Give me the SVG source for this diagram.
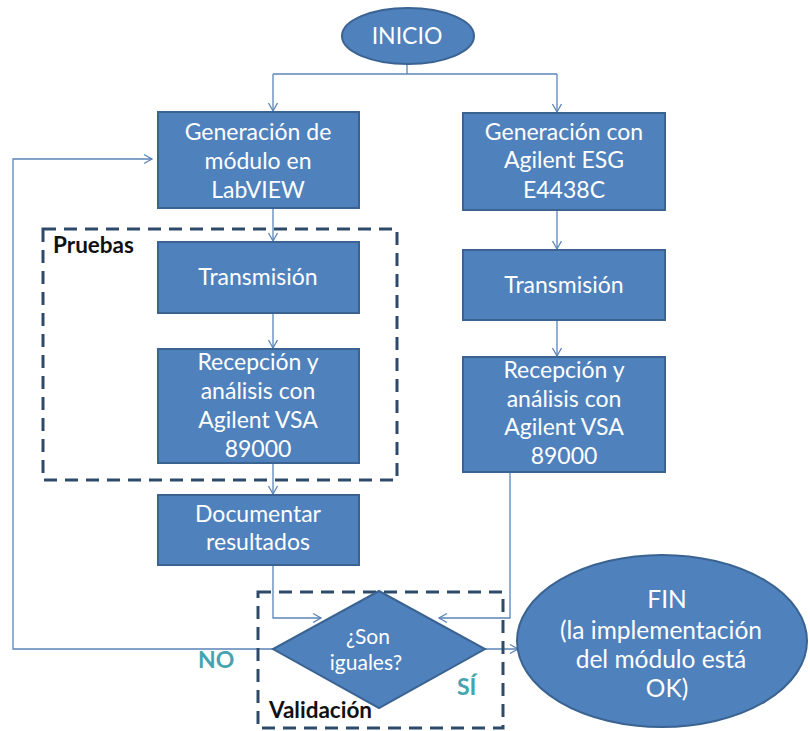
<svg xmlns="http://www.w3.org/2000/svg" width="810" height="731" viewBox="0 0 810 731">
  <style>
    .box { fill: #4F81BD; stroke: #3A6391; stroke-width: 2; }
    .lbl { font-family: Lato, "Liberation Sans", sans-serif; font-size: 23px; fill: #FFFFFF; text-anchor: middle; }
    .big { font-size: 24.5px; }
    .small { font-size: 21px; }
    .edge { fill: none; stroke: #5A84B8; stroke-width: 1.3; }
    .group { fill: none; stroke: #2E4A6B; stroke-width: 3; stroke-dasharray: 13 8; }
    .gtitle { font-family: Lato, "Liberation Sans", sans-serif; font-size: 22.5px; font-weight: bold; fill: #111111; }
    .answer { font-family: Lato, "Liberation Sans", sans-serif; font-size: 23px; font-weight: bold; fill: #45A4AE; }
  </style>
  <defs>
    <marker id="arrow" markerUnits="userSpaceOnUse" markerWidth="12" markerHeight="12" refX="9" refY="6" orient="auto">
      <path d="M1,1.5 L9,6 L1,10.5" fill="none" stroke="#5A84B8" stroke-width="1.3"/>
    </marker>
  </defs>

  <!-- connectors -->
  <g id="connectors">
    <path class="edge" d="M407,64 V74"/>
    <path class="edge" d="M273,74 H557"/>
    <path class="edge" d="M273,74 V111" marker-end="url(#arrow)"/>
    <path class="edge" d="M557,74 V112" marker-end="url(#arrow)"/>
    <path class="edge" d="M273,209 V241" marker-end="url(#arrow)"/>
    <path class="edge" d="M273,313 V348" marker-end="url(#arrow)"/>
    <path class="edge" d="M273,463 V494" marker-end="url(#arrow)"/>
    <path class="edge" d="M557,210 V249" marker-end="url(#arrow)"/>
    <path class="edge" d="M557,320 V356" marker-end="url(#arrow)"/>
    <path class="edge" d="M273,565 V618 H321" marker-end="url(#arrow)"/>
    <path class="edge" d="M510,472 V618 H439" marker-end="url(#arrow)"/>
    <path class="edge" d="M273,649 H13 V159 H152" marker-end="url(#arrow)"/>
    <path class="edge" d="M485,649 H518" marker-end="url(#arrow)"/>
  </g>

  <!-- dashed groupings -->
  <g id="pruebas">
    <rect class="group" x="43" y="229" width="354" height="251"/>
    <text class="gtitle" x="53" y="253">Pruebas</text>
  </g>
  <g id="validacion">
    <rect class="group" x="258" y="592" width="245" height="136"/>
    <text class="gtitle" x="269" y="718">Validación</text>
  </g>

  <!-- nodes -->
  <g id="inicio">
    <ellipse class="box" cx="408" cy="36" rx="66" ry="28"/>
    <text class="lbl" x="407" y="44">INICIO</text>
  </g>

  <g id="gen-labview">
    <rect class="box" x="158" y="112" width="201" height="96"/>
    <text class="lbl" x="258" y="140">Generación de</text>
    <text class="lbl" x="258" y="169">módulo en</text>
    <text class="lbl" x="258" y="198">LabVIEW</text>
  </g>

  <g id="gen-esg">
    <rect class="box" x="463" y="113" width="202" height="97"/>
    <text class="lbl" x="564" y="140">Generación con</text>
    <text class="lbl" x="564" y="168">Agilent ESG</text>
    <text class="lbl" x="564" y="198">E4438C</text>
  </g>

  <g id="tx-left">
    <rect class="box" x="158" y="242" width="201" height="71"/>
    <text class="lbl" x="258" y="285">Transmisión</text>
  </g>

  <g id="tx-right">
    <rect class="box" x="463" y="250" width="202" height="70"/>
    <text class="lbl" x="564" y="293">Transmisión</text>
  </g>

  <g id="rx-left">
    <rect class="box" x="158" y="349" width="201" height="114"/>
    <text class="lbl" x="258" y="370">Recepción y</text>
    <text class="lbl" x="258" y="399">análisis con</text>
    <text class="lbl" x="258" y="428">Agilent VSA</text>
    <text class="lbl" x="258" y="457">89000</text>
  </g>

  <g id="rx-right">
    <rect class="box" x="463" y="357" width="202" height="115"/>
    <text class="lbl" x="564" y="378">Recepción y</text>
    <text class="lbl" x="564" y="407">análisis con</text>
    <text class="lbl" x="564" y="435">Agilent VSA</text>
    <text class="lbl" x="564" y="464">89000</text>
  </g>

  <g id="documentar">
    <rect class="box" x="158" y="495" width="201" height="70"/>
    <text class="lbl" x="258" y="522">Documentar</text>
    <text class="lbl" x="258" y="550">resultados</text>
  </g>

  <g id="decision">
    <polygon class="box" points="379,591 485,649 379,708 273,649"/>
    <text class="lbl small" x="368" y="644">¿Son</text>
    <text class="lbl small" x="366" y="670">iguales?</text>
  </g>

  <g id="fin">
    <ellipse class="box" cx="662" cy="641" rx="145" ry="86"/>
    <text class="lbl big" x="667" y="608">FIN</text>
    <text class="lbl big" x="661" y="639">(la implementación</text>
    <text class="lbl big" x="661" y="668">del módulo está</text>
    <text class="lbl big" x="667" y="697">OK)</text>
  </g>

  <!-- branch labels -->
  <text class="answer" x="198" y="668">NO</text>
  <text class="answer" x="457" y="695">SÍ</text>
</svg>
